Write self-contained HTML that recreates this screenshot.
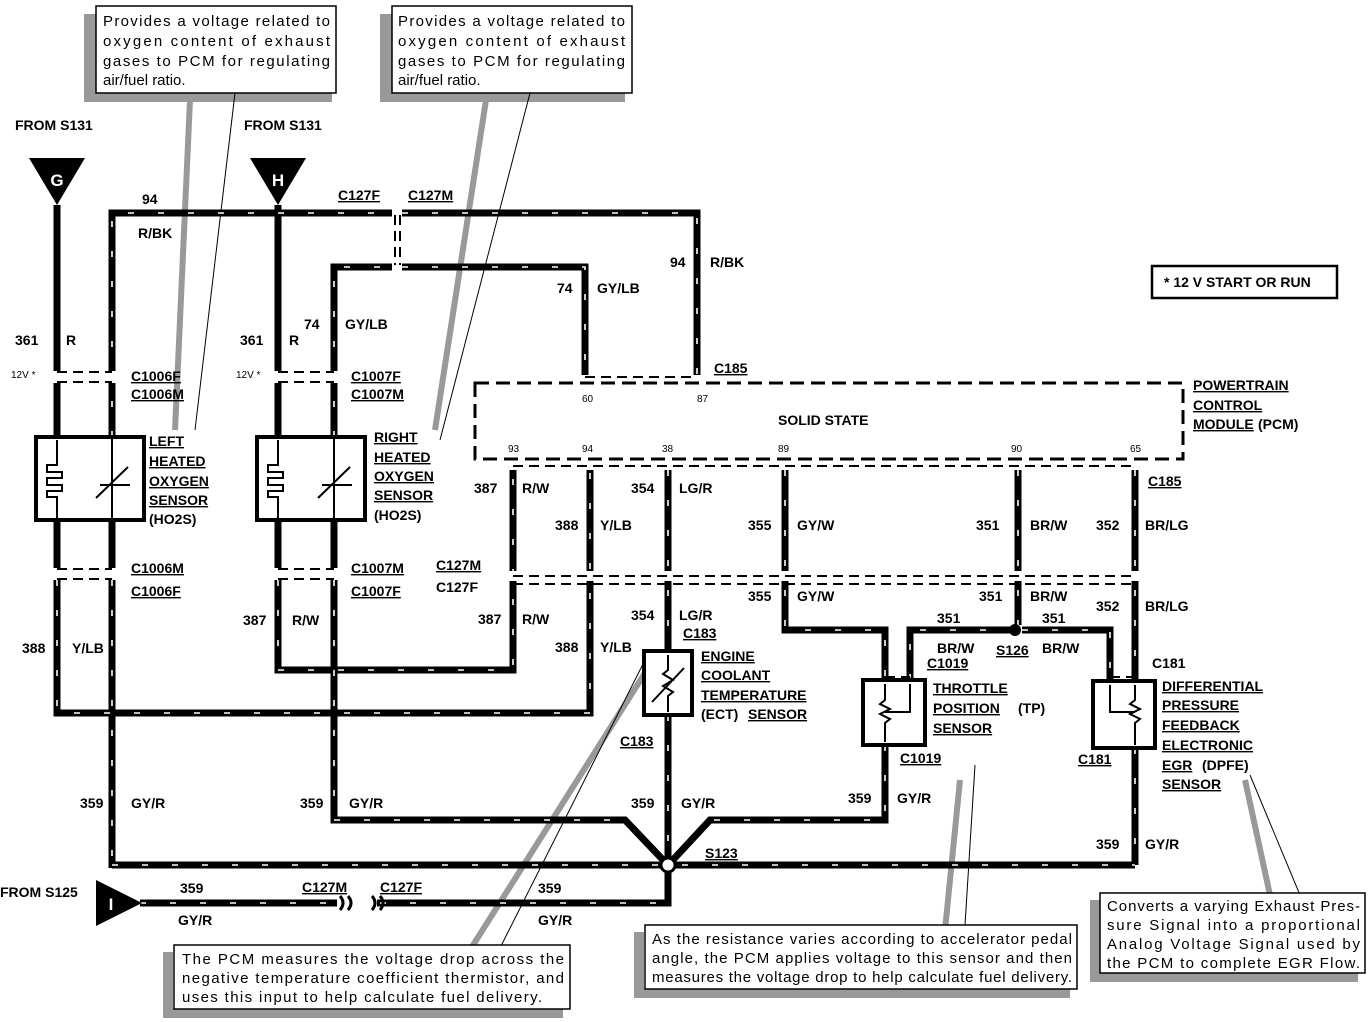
<!DOCTYPE html>
<html><head><meta charset="utf-8"><style>
html,body{margin:0;padding:0;background:#fff}
svg{display:block}
text{font-family:"Liberation Sans",Arial,sans-serif;font-weight:bold;font-size:14px;fill:#000}
.n{font-weight:normal;font-size:15px}
.s{font-size:10px;font-weight:normal}
</style></head><body>
<svg width="1372" height="1022" viewBox="0 0 1372 1022" xmlns="http://www.w3.org/2000/svg">
<g fill="#999" stroke="none">
<rect x="84" y="14" width="12" height="88"/><rect x="84" y="92" width="248" height="10"/>
<rect x="380" y="14" width="12" height="88"/><rect x="380" y="92" width="245" height="10"/>
<rect x="163" y="952" width="10" height="66"/><rect x="163" y="1008" width="400" height="10"/>
<rect x="634" y="932" width="10" height="66"/><rect x="634" y="988" width="436" height="10"/>
<rect x="1090" y="900" width="10" height="82"/><rect x="1090" y="972" width="268" height="10"/>
</g>
<g stroke="#999" stroke-width="6" fill="none">
<line x1="190" y1="100" x2="175" y2="430"/>
<line x1="486" y1="100" x2="435" y2="430"/>
<line x1="470" y1="950" x2="650" y2="665"/>
<line x1="945" y1="930" x2="960" y2="780"/>
<line x1="1270" y1="895" x2="1245" y2="780"/>
</g>
<g stroke="#000" stroke-width="1" fill="none">
<line x1="235" y1="93" x2="195" y2="430"/>
<line x1="530" y1="93" x2="440" y2="440"/>
<line x1="500" y1="948" x2="645" y2="660"/>
<line x1="965" y1="925" x2="975" y2="765"/>
<line x1="1300" y1="895" x2="1250" y2="775"/>
</g>
<g stroke="#000" stroke-width="7" fill="none" stroke-linejoin="miter">
<path d="M57,205 V435"/>
<path d="M112,437 V213 H392 M402,213 H697 V375"/>
<path d="M278,205 V437"/>
<path d="M334,437 V267 H392 M402,267 H585 V375"/>
<path d="M57,520 V713 H590 V470"/>
<path d="M112,520 V868"/>
<path d="M278,520 V670 H513 V470"/>
<path d="M334,520 V820 H625 L665,862"/>
<path d="M668,470 V650 M668,715 V865"/>
<path d="M785,470 V630 H885 V680"/>
<path d="M1018,470 V625 M910,680 V630 H1010 M1022,630 H1110 V680"/>
<path d="M1135,470 V680 M1135,748 V865"/>
<path d="M885,745 V820 H710 L671,862"/>
<path d="M112,865 H1135"/>
<path d="M140,903 H668 V868"/>
</g>
<g stroke="#fff" stroke-width="1.6" fill="none" stroke-dasharray="6 24">
<path d="M112,437 V213 H392 M402,213 H697 V375"/>
<path d="M334,437 V267 H392 M402,267 H585 V375"/>
<path d="M57,580 V713 H590 V470"/>
<path d="M112,580 V868"/>
<path d="M278,580 V670 H513 V470"/>
<path d="M334,580 V820 H625"/>
<path d="M668,470 V650 M668,715 V865"/>
<path d="M785,470 V630 H885 V680"/>
<path d="M1018,470 V625 M910,680 V630 H1010 M1022,630 H1110 V680"/>
<path d="M1135,470 V680 M1135,748 V865"/>
<path d="M885,745 V820 H710"/>
<path d="M112,865 H1135"/>
<path d="M140,903 H668"/>
</g>
<g fill="#fff">
<rect x="45" y="371" width="80" height="12"/><rect x="266" y="371" width="80" height="12"/>
<rect x="45" y="568" width="80" height="12"/><rect x="266" y="568" width="80" height="12"/>
<rect x="500" y="571" width="650" height="10"/>
<rect x="337" y="898" width="40" height="12"/>
</g>
<g stroke="#000" stroke-width="2" stroke-dasharray="10 6" fill="none">
<line x1="57" y1="372" x2="112" y2="372"/><line x1="57" y1="382" x2="112" y2="382"/>
<line x1="278" y1="372" x2="334" y2="372"/><line x1="278" y1="382" x2="334" y2="382"/>
<line x1="57" y1="569" x2="112" y2="569"/><line x1="57" y1="579" x2="112" y2="579"/>
<line x1="278" y1="569" x2="334" y2="569"/><line x1="278" y1="579" x2="334" y2="579"/>
<line x1="513" y1="576" x2="1135" y2="576"/><line x1="513" y1="584" x2="1135" y2="584"/>
<line x1="513" y1="466" x2="1135" y2="466"/>
<line x1="585" y1="377" x2="697" y2="377"/>
<line x1="395" y1="215" x2="395" y2="265"/><line x1="400" y1="215" x2="400" y2="265"/>
<line x1="885" y1="677" x2="910" y2="677"/><line x1="1110" y1="677" x2="1135" y2="677"/>
</g>
<path d="M340,896 q6,7 0,14 M348,896 q6,7 0,14 M372,896 q6,7 0,14 M380,896 q6,7 0,14" stroke="#000" stroke-width="3" fill="none"/>
<rect x="475" y="383" width="708" height="76" fill="none" stroke="#000" stroke-width="3" stroke-dasharray="14 7"/>
<circle cx="668" cy="865" r="7" fill="#fff" stroke="#000" stroke-width="3"/>
<circle cx="1015" cy="630" r="6" fill="#000"/>
<polygon points="29,158 85,158 57,205" fill="#000"/>
<text x="57" y="186" text-anchor="middle" style="fill:#fff;font-size:17px">G</text>
<polygon points="250,158 306,158 278,205" fill="#000"/>
<text x="278" y="186" text-anchor="middle" style="fill:#fff;font-size:17px">H</text>
<polygon points="96,880 96,926 142,903" fill="#000"/>
<text x="111" y="910" text-anchor="middle" style="fill:#fff;font-size:17px">I</text>
<g fill="#fff" stroke="#000" stroke-width="4">
<rect x="36" y="437" width="108" height="83"/>
<rect x="257" y="437" width="108" height="83"/>
<rect x="644" y="651" width="48" height="64"/>
<rect x="863" y="680" width="62" height="65"/>
<rect x="1093" y="681" width="62" height="67"/>
</g>
<g stroke="#000" stroke-width="2" fill="none">
<line x1="112" y1="437" x2="112" y2="520"/><line x1="334" y1="437" x2="334" y2="520"/>
<path d="M57,440 V465 H47 V472 H62 V478 H47 V485 H62 V491 H47 V497 H57 V518"/>
<path d="M278,440 V465 H268 V472 H283 V478 H268 V485 H283 V491 H268 V497 H278 V518"/>
<line x1="100" y1="485" x2="130" y2="485"/><line x1="96" y1="498" x2="128" y2="467"/>
<line x1="322" y1="485" x2="352" y2="485"/><line x1="318" y1="498" x2="350" y2="467"/>
<path d="M668,655 V670 l-5,4 10,6 -10,6 10,6 -5,4 V712"/><line x1="652" y1="702" x2="684" y2="668"/>
<path d="M885,684 V700 l-5,4 10,5 -10,5 10,5 -5,4 V742 M885,712 H910 V684"/>
<path d="M1135,685 V700 l-5,4 10,5 -10,5 10,5 -5,4 V745 M1110,685 V712 H1135"/>
</g>
<g fill="#fff" stroke="#000" stroke-width="1.5">
<rect x="96" y="6" width="240" height="87"/>
<rect x="392" y="6" width="240" height="87"/>
<rect x="174" y="945" width="396" height="64"/>
<rect x="645" y="925" width="432" height="64"/>
<rect x="1100" y="893" width="265" height="80"/>
<rect x="1152" y="266" width="185" height="32" stroke-width="2.5"/>
</g>
<text class="n" x="103" y="26" textLength="227">Provides a voltage related to</text>
<text class="n" x="103" y="46" textLength="227">oxygen  content  of  exhaust</text>
<text class="n" x="103" y="66" textLength="227">gases to PCM for regulating</text>
<text class="n" x="103" y="85">air/fuel ratio.</text>
<text class="n" x="398" y="26" textLength="227">Provides a voltage related to</text>
<text class="n" x="398" y="46" textLength="227">oxygen  content  of  exhaust</text>
<text class="n" x="398" y="66" textLength="227">gases to PCM for regulating</text>
<text class="n" x="398" y="85">air/fuel ratio.</text>
<text class="n" x="182" y="964" textLength="382">The PCM measures the voltage drop across the</text>
<text class="n" x="182" y="983" textLength="382">negative temperature coefficient thermistor, and</text>
<text class="n" x="182" y="1002" textLength="360">uses this input to help calculate fuel delivery.</text>
<text class="n" x="652" y="944" textLength="420">As the resistance varies according to accelerator pedal</text>
<text class="n" x="652" y="963" textLength="420">angle, the PCM applies voltage to this sensor and then</text>
<text class="n" x="652" y="982" textLength="420">measures the voltage drop to help calculate fuel delivery.</text>
<text class="n" x="1107" y="911" textLength="253">Converts a varying Exhaust Pres-</text>
<text class="n" x="1107" y="930" textLength="253">sure  Signal into a proportional</text>
<text class="n" x="1107" y="949" textLength="253">Analog Voltage Signal used by</text>
<text class="n" x="1107" y="968" textLength="253">the PCM to complete EGR Flow.</text>
<text x="1164" y="287">* 12 V START OR RUN</text>
<text x="15" y="130">FROM S131</text><text x="244" y="130">FROM S131</text>
<text x="0" y="897">FROM S125</text>
<text x="142" y="204">94</text><text x="138" y="238">R/BK</text>
<text x="670" y="267">94</text><text x="710" y="267">R/BK</text>
<text x="557" y="293">74</text><text x="597" y="293">GY/LB</text>
<text x="304" y="329">74</text><text x="345" y="329">GY/LB</text>
<text x="15" y="345">361</text><text x="66" y="345">R</text>
<text x="240" y="345">361</text><text x="289" y="345">R</text>
<text class="s" x="11" y="378">12V *</text><text class="s" x="236" y="378">12V *</text>
<g text-decoration="underline">
<text x="338" y="200">C127F</text><text x="408" y="200">C127M</text>
<text x="131" y="381">C1006F</text><text x="131" y="399">C1006M</text>
<text x="351" y="381">C1007F</text><text x="351" y="399">C1007M</text>
<text x="149" y="446">LEFT</text><text x="149" y="466">HEATED</text><text x="149" y="486">OXYGEN</text><text x="149" y="505">SENSOR</text>
<text x="374" y="442">RIGHT</text><text x="374" y="462">HEATED</text><text x="374" y="481">OXYGEN</text><text x="374" y="500">SENSOR</text>
<text x="131" y="573">C1006M</text><text x="131" y="596">C1006F</text>
<text x="351" y="573">C1007M</text><text x="351" y="596">C1007F</text>
<text x="436" y="570">C127M</text>
<text x="714" y="373">C185</text><text x="1148" y="486">C185</text>
<text x="1193" y="390">POWERTRAIN</text><text x="1193" y="410">CONTROL</text><text x="1193" y="429">MODULE</text>
<text x="683" y="638">C183</text><text x="620" y="746">C183</text>
<text x="701" y="661">ENGINE</text><text x="701" y="680">COOLANT</text><text x="701" y="700">TEMPERATURE</text><text x="748" y="719">SENSOR</text>
<text x="933" y="693">THROTTLE</text><text x="933" y="713">POSITION</text><text x="933" y="733">SENSOR</text>
<text x="927" y="668">C1019</text><text x="900" y="763">C1019</text><text x="996" y="655">S126</text>
<text x="1162" y="691">DIFFERENTIAL</text><text x="1162" y="710">PRESSURE</text><text x="1162" y="730">FEEDBACK</text><text x="1162" y="750">ELECTRONIC</text><text x="1162" y="770">EGR</text><text x="1162" y="789">SENSOR</text>
<text x="1078" y="764">C181</text>
<text x="705" y="858">S123</text>
<text x="302" y="892">C127M</text><text x="380" y="892">C127F</text>
</g>
<text x="436" y="592">C127F</text>
<text x="1258" y="429">(PCM)</text>
<text x="149" y="524">(HO2S)</text><text x="374" y="520">(HO2S)</text>
<text x="701" y="719">(ECT)</text><text x="1018" y="713">(TP)</text><text x="1202" y="770">(DPFE)</text>
<text x="1152" y="668">C181</text>
<text x="778" y="425">SOLID STATE</text>
<text class="s" x="582" y="402">60</text><text class="s" x="697" y="402">87</text>
<text class="s" x="508" y="452">93</text><text class="s" x="582" y="452">94</text><text class="s" x="662" y="452">38</text><text class="s" x="778" y="452">89</text><text class="s" x="1011" y="452">90</text><text class="s" x="1130" y="452">65</text>
<text x="474" y="493">387</text><text x="522" y="493">R/W</text>
<text x="555" y="530">388</text><text x="600" y="530">Y/LB</text>
<text x="631" y="493">354</text><text x="679" y="493">LG/R</text>
<text x="748" y="530">355</text><text x="797" y="530">GY/W</text>
<text x="976" y="530">351</text><text x="1030" y="530">BR/W</text>
<text x="1096" y="530">352</text><text x="1145" y="530">BR/LG</text>
<text x="748" y="601">355</text><text x="797" y="601">GY/W</text>
<text x="979" y="601">351</text><text x="1030" y="601">BR/W</text>
<text x="1096" y="611">352</text><text x="1145" y="611">BR/LG</text>
<text x="631" y="620">354</text><text x="679" y="620">LG/R</text>
<text x="478" y="624">387</text><text x="522" y="624">R/W</text>
<text x="555" y="652">388</text><text x="600" y="652">Y/LB</text>
<text x="243" y="625">387</text><text x="292" y="625">R/W</text>
<text x="22" y="653">388</text><text x="72" y="653">Y/LB</text>
<text x="937" y="623">351</text><text x="1042" y="623">351</text>
<text x="937" y="653">BR/W</text><text x="1042" y="653">BR/W</text>
<text x="80" y="808">359</text><text x="131" y="808">GY/R</text>
<text x="300" y="808">359</text><text x="349" y="808">GY/R</text>
<text x="631" y="808">359</text><text x="681" y="808">GY/R</text>
<text x="848" y="803">359</text><text x="897" y="803">GY/R</text>
<text x="1096" y="849">359</text><text x="1145" y="849">GY/R</text>
<text x="180" y="893">359</text><text x="178" y="925">GY/R</text>
<text x="538" y="893">359</text><text x="538" y="925">GY/R</text>
</svg>
</body></html>
